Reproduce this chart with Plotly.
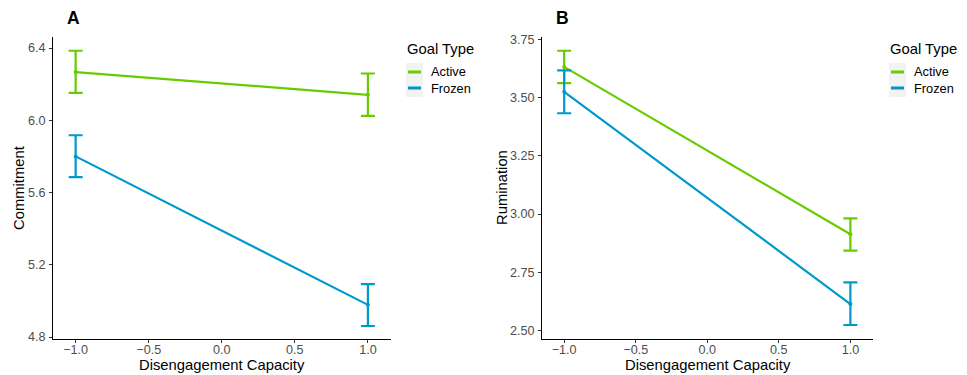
import plotly.graph_objects as go

# ---- data ----
x_vals = [-1.0, 1.0]
goal_types = ["Active", "Frozen"]
colors = {"Active": "#66CC00", "Frozen": "#0099CC"}

commit_mean = {"Active": [6.267, 6.141], "Frozen": [5.800, 4.978]}
commit_upper = {"Active": [6.385, 6.259], "Frozen": [5.917, 5.093]}
commit_lower = {"Active": [6.152, 6.024], "Frozen": [5.685, 4.861]}

rum_mean = {"Active": [3.631, 2.913], "Frozen": [3.524, 2.614]}
rum_upper = {"Active": [3.700, 2.981], "Frozen": [3.616, 2.707]}
rum_lower = {"Active": [3.561, 2.843], "Frozen": [3.432, 2.524]}

x_ticks = [-1.0, -0.5, 0.0, 0.5, 1.0]
x_ticktext = ["\u22121.0", "\u22120.5", "0.0", "0.5", "1.0"]
commit_ticks = [4.8, 5.2, 5.6, 6.0, 6.4]
rum_ticks = [2.50, 2.75, 3.00, 3.25, 3.50, 3.75]

W, H = 967, 375
FONT = "Liberation Sans, Arial, sans-serif"

fig = go.Figure()

def add_panel(xaxis, yaxis, mean, upper, lower):
    for g in goal_types:
        m = mean[g]
        up = [u - v for u, v in zip(upper[g], m)]
        dn = [v - l for l, v in zip(lower[g], m)]
        fig.add_trace(go.Scatter(
            x=x_vals, y=m, mode="lines+markers",
            line=dict(color=colors[g], width=2.2),
            marker=dict(color=colors[g], size=4),
            error_y=dict(type="data", symmetric=False, array=up, arrayminus=dn,
                         color=colors[g], thickness=2.2, width=7),
            xaxis=xaxis, yaxis=yaxis, showlegend=False, name=g,
        ))

add_panel("x", "y", commit_mean, commit_upper, commit_lower)
add_panel("x2", "y2", rum_mean, rum_upper, rum_lower)

def px_x(p):
    return p / W

def px_y(p):
    return 1 - p / H

ydom = [px_y(339), px_y(37)]

axis_common = dict(
    showgrid=False, zeroline=False, showline=True, linecolor="#000000", linewidth=1,
    ticks="outside", ticklen=3, tickcolor="#333333", tickwidth=1, automargin=False,
    tickfont=dict(family=FONT, size=12.6, color="#4D4D4D"),
)
title_font = dict(family=FONT, size=14.8, color="black")

fig.update_layout(
    width=W, height=H,
    margin=dict(l=0, r=0, t=0, b=0, autoexpand=False),
    paper_bgcolor="white", plot_bgcolor="white",
    font=dict(family=FONT),
    xaxis=dict(domain=[px_x(53), px_x(391)], range=[-1.155, 1.158],
               tickvals=x_ticks, ticktext=x_ticktext, anchor="y", ticklabelstandoff=-4,
               **axis_common),
    yaxis=dict(domain=ydom, range=[4.789, 6.461], tickvals=commit_ticks,
               tickformat=".1f", anchor="x", ticklabelstandoff=1, **axis_common),
    xaxis2=dict(domain=[px_x(542), px_x(873)], range=[-1.155, 1.158],
                tickvals=x_ticks, ticktext=x_ticktext, anchor="y2", ticklabelstandoff=-4,
                **axis_common),
    yaxis2=dict(domain=ydom, range=[2.464, 3.759], tickvals=rum_ticks,
                tickformat=".2f", anchor="x2", ticklabelstandoff=1, **axis_common),
)

# axis titles
for txt, xp in [("Disengagement Capacity", 222), ("Disengagement Capacity", 707.5)]:
    fig.add_annotation(text=txt, x=px_x(xp), y=px_y(365), xref="paper", yref="paper",
                       showarrow=False, xanchor="center", yanchor="middle", font=title_font)
for txt, xp in [("Commitment", 19), ("Rumination", 502)]:
    fig.add_annotation(text=txt, x=px_x(xp), y=px_y(188), xref="paper", yref="paper",
                       showarrow=False, xanchor="center", yanchor="middle", textangle=-90,
                       font=title_font)

# panel labels
for lbl, xp in [("A", 73), ("B", 562)]:
    fig.add_annotation(text="<b>%s</b>" % lbl, x=px_x(xp), y=px_y(18), xref="paper", yref="paper",
                       showarrow=False, font=dict(family=FONT, size=17.5, color="black"),
                       xanchor="center", yanchor="middle")

# manual legends (ggplot-style)
legend_positions = [406, 889]
for lx in legend_positions:
    fig.add_annotation(text="Goal Type", x=px_x(lx - 1), y=px_y(49), xref="paper", yref="paper",
                       showarrow=False, xanchor="left", yanchor="middle",
                       font=dict(family=FONT, size=14.8, color="black"))
    fig.add_shape(type="rect", xref="paper", yref="paper",
                  x0=px_x(lx), x1=px_x(lx + 17), y0=px_y(97), y1=px_y(63),
                  fillcolor="#F2F2F2", line=dict(width=0), layer="below")
    for i, g in enumerate(goal_types):
        yc = 72 + i * 16
        fig.add_shape(type="line", xref="paper", yref="paper",
                      x0=px_x(lx + 2), x1=px_x(lx + 15), y0=px_y(yc), y1=px_y(yc),
                      line=dict(color=colors[g], width=3))
        fig.add_annotation(text=g, x=px_x(lx + 23), y=px_y(yc), xref="paper", yref="paper",
                           showarrow=False, xanchor="left", yanchor="middle",
                           font=dict(family=FONT, size=12.8, color="black"))

fig.write_html("out.html", config={"displayModeBar": False},
               post_script="document.body.style.margin='0';document.body.style.overflow='hidden';")
